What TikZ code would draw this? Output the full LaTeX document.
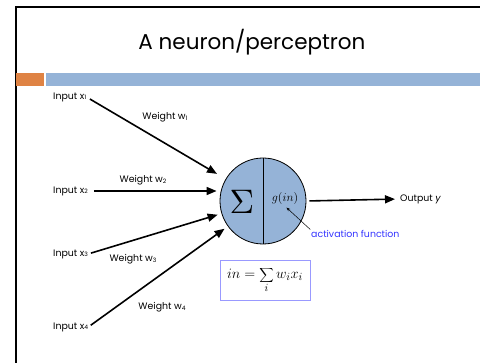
\documentclass[tikz,border=0pt]{standalone}
\usepackage{fontspec}
\setmainfont{Poppins}
\usetikzlibrary{arrows.meta}
\definecolor{barblue}{HTML}{95B3D7}
\definecolor{barorange}{HTML}{DF8344}
\definecolor{actblue}{HTML}{3333FF}
\definecolor{boxblue}{HTML}{9999FF}
\newcommand{\sbs}[1]{\raisebox{-0.7pt}{\fontsize{6}{6}\selectfont #1}}
\begin{document}
\begin{tikzpicture}[x=1pt,y=-1pt,
  lbl/.style={font=\fontsize{9.4}{10}\selectfont, inner sep=0pt},
  inlbl/.style={lbl, anchor=west},
  wire/.style={line width=1.6pt, -{Triangle[length=10pt,width=8pt]}},
  neuron/.style={circle, draw, line width=0.8pt, fill=barblue, minimum size=86pt, inner sep=0pt}]
\useasboundingbox (0,0) rectangle (480,363);
% frame
\draw[line width=2pt] (480,7) -- (16,7) -- (16,363);
\fill[barorange] (16,73) rectangle (44,86);
\fill[barblue] (46,73) rectangle (480,86);
\node[font=\fontsize{21.5}{24}\selectfont] (title) at (252,42) {A neuron/perceptron};
% inputs
\node[inlbl] (in1) at (53,97) {Input x\sbs{1}};
\node[inlbl] (in2) at (53,191) {Input x\sbs{2}};
\node[inlbl] (in3) at (53,254) {Input x\sbs{3}};
\node[inlbl] (in4) at (53,327) {Input x\sbs{4}};
% neuron
\node[neuron] (n) at (263,201) {};
\draw[line width=0.8pt] (n.north) -- (n.south);
\node[inner sep=0pt] (sig) at (242,202) {\scalebox{3.4}{$\Sigma$}};
\node[font=\fontsize{12.5}{12.5}\selectfont, inner sep=1pt] (g) at (285,199) {$g(in)$};
% connectors
\draw[wire, shorten <=4pt, shorten >=10pt] (in1.east) -- (n);
\draw[wire, shorten <=6pt, shorten >=3pt] (in2.east) -- (n.west |- in2.east);
\draw[wire, shorten <=3pt, shorten >=4pt] (in3.east) -- (n);
\draw[wire, shorten <=3pt, shorten >=4pt] (in4.east) -- (n);
% weights
\node[lbl] (w1) at (165,117) {Weight w\sbs{1}};
\node[lbl] (w2) at (143,180) {Weight w\sbs{2}};
\node[lbl] (w3) at (133,259) {Weight w\sbs{3}};
\node[lbl] (w4) at (162,307) {Weight w\sbs{4}};
% output
\node[inlbl] (out) at (400,199) {Output \textit{y}};
\draw[wire, shorten <=3pt, shorten >=5pt] (n.east) -- (out.west);
% activation
\node[lbl, anchor=west, text=actblue] (act) at (311,234) {activation function};
\draw[-{Stealth[length=4pt,width=3pt]}, line width=0.5pt, shorten <=1pt, shorten >=2pt] (act.north west) -- (g.south);
% formula
\node[draw=boxblue, line width=0.9pt, minimum width=90pt, minimum height=40pt, inner sep=0pt,
  font=\fontsize{15}{15}\selectfont] (f) at (265,280) {$\displaystyle in = \sum_i w_i x_i$};
\end{tikzpicture}
\end{document}
